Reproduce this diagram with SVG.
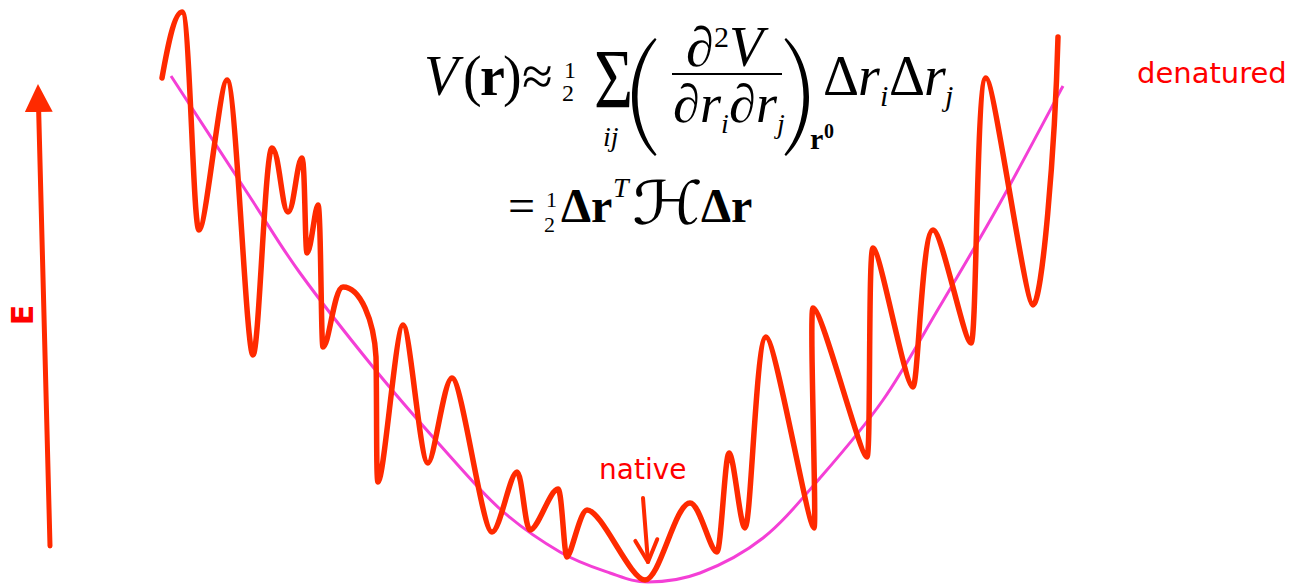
<svg xmlns="http://www.w3.org/2000/svg" width="1291" height="584" viewBox="0 0 1291 584">
<defs>
<style>
.m{font-family:"Liberation Serif","Times New Roman",serif;fill:#000}
.l1{font-size:56px}
.l2{font-size:48px}
.it{font-style:italic}
.bd{font-weight:bold}
.lbl{font-family:"DejaVu Sans",sans-serif;fill:#FF0000}
.wave{fill:none;stroke:#FF2A00;stroke-width:5.5;stroke-linecap:round;stroke-linejoin:round}
.fit{fill:none;stroke:#F43FD6;stroke-width:3}
.arr{fill:none;stroke:#FF2A00;stroke-linecap:round}
</style>
<marker id="headFill" markerUnits="userSpaceOnUse" markerWidth="28" markerHeight="28" viewBox="0 0 26 26" refX="0" refY="13" orient="auto">
<path d="M0,0 L26,13 L0,26 Z" fill="#FF2A00"/>
</marker>
<marker id="headOpen" markerUnits="userSpaceOnUse" markerWidth="30" markerHeight="30" viewBox="-4 -4 30 30" refX="22" refY="11" orient="auto">
<path d="M0,0 L22,11 L0,22" fill="none" stroke="#FF2A00" stroke-width="4" stroke-linecap="round" stroke-linejoin="round"/>
</marker>
</defs>
<rect width="1291" height="584" fill="#fff"/>

<g id="landscape">
<path id="harmonic-fit" class="fit" d="M171,76 C184.2,96.2 228.5,164.2 250,197 C271.5,229.8 279.5,244.7 300,273 C320.5,301.3 349.7,338.3 373,367 C396.3,395.7 418.8,421.3 440,445 C461.2,468.7 480,491.2 500,509 C520,526.8 541.7,541.3 560,552 C578.3,562.7 595.3,568 610,573 C624.7,578 633,582 648,582 C663,582 680.8,580.3 700,573 C719.2,565.7 743,553.8 763,538 C783,522.2 800,501 820,478 C840,455 863,428.7 883,400 C903,371.3 920.5,338.8 940,306 C959.5,273.2 979.5,239.7 1000,203 C1020.5,166.3 1052.5,105.5 1063,86"/>
<path id="rugged-energy" class="wave" d="M162,78 C167,50 174,12 182,12 C190,12 193,230 199,230 C206,230 220,80 227,80 C236,80 246,355 253,355 C259,355 265,148 272,148 C279,148 282,212 288,212 C294,212 297,158 302,158 C305,158 305,253 307,253 C311,253 315,205 318,205 C321,205 321,347 323,347 C329,347 334,287 343,287 C360,287 374,320 376,357 C377,400 376,482 378,482 C384,482 396,325 403,325 C410,325 420,463 428,463 C434,463 444,378 452,378 C462,378 482,532 492,532 C500,532 510,472 517,472 C522,472 525,530 530,530 C538,530 550,489 558,489 C562,489 564,557 567,557 C571,557 580,510 587,510 C602,510 630,580 645,580 C660,580 675,503 690,503 C700,503 710,552 717,552 C721,552 725,453 729,453 C734,453 740,528 745,528 C751,528 756,337 766,337 C775,337 808,528 814,528 C817,528 809,308 813,308 C822,308 860,457 867,457 C871,457 868,248 873,248 C880,248 905,387 913,387 C918,387 922,230 933,230 C942,230 964,343 971,343 C977,343 976,78 986,78 C994,78 1025,305 1033,305 C1042,305 1055,150 1058,37"/>
</g>

<g id="connectors">
<line id="energy-axis" class="arr" x1="50" y1="546" x2="38.7" y2="112" stroke-width="5" marker-end="url(#headFill)"/>
<line id="native-pointer" class="arr" x1="643" y1="498" x2="648" y2="562" stroke-width="4" marker-end="url(#headOpen)"/>
</g>

<g id="label-E">
<text class="lbl" font-size="30" font-weight="bold" text-anchor="middle" transform="translate(33,315) rotate(-90)">E</text>
</g>

<g id="label-native">
<text class="lbl" font-size="28" x="599" y="479">native</text>
</g>

<g id="label-denatured">
<text class="lbl" font-size="29" x="1137" y="83">denatured</text>
</g>

<g id="formula-line1">
<text class="m l1 it" x="424" y="95">V</text>
<text class="m l1" x="463" y="95">(</text>
<text class="m l1 bd" x="480" y="95">r</text>
<text class="m l1" x="503" y="95">)</text>
<text class="m l1" x="522" y="95">≈</text>
<text class="m" font-size="24" x="564" y="78">1</text>
<text class="m" font-size="24" x="562" y="101">2</text>
<text class="m" font-size="84" transform="translate(594,108) scale(0.8,1)">Σ</text>
<text class="m it" font-size="28" x="603" y="146">ij</text>
<path d="M655,38 C640,52 632,75 632,97 C632,119 640,142 655,156 L656.5,154.5 C645,140 637.5,120 637.5,97 C637.5,74 645,54 656.5,39.5 Z" fill="#000"/>
<text class="m l1" x="686" y="66">∂</text>
<text class="m" font-size="30" x="714" y="47">2</text>
<text class="m l1 it" x="729" y="66">V</text>
<line x1="672" y1="74" x2="782" y2="74" stroke="#000" stroke-width="2"/>
<text class="m" font-size="54" x="673" y="122">∂</text>
<text class="m it" font-size="54" x="700" y="122">r</text>
<text class="m it" font-size="28" x="721" y="133">i</text>
<text class="m" font-size="54" x="729" y="122">∂</text>
<text class="m it" font-size="54" x="756" y="122">r</text>
<text class="m it" font-size="28" x="777" y="133">j</text>
<path d="M786,38 C801,52 809,75 809,97 C809,119 801,142 786,156 L784.5,154.5 C796,140 803.5,120 803.5,97 C803.5,74 796,54 784.5,39.5 Z" fill="#000"/>
<text class="m bd" font-size="30" x="810" y="149">r</text>
<text class="m bd" font-size="20" x="824" y="138">0</text>
<text class="m l1" x="823" y="95">Δ</text>
<text class="m l1 it" x="858" y="95">r</text>
<text class="m it" font-size="30" x="880" y="106">i</text>
<text class="m l1" x="889" y="95">Δ</text>
<text class="m l1 it" x="924" y="95">r</text>
<text class="m it" font-size="30" x="945" y="106">j</text>
</g>

<g id="formula-line2">
<text class="m l2" x="508" y="222">=</text>
<text class="m" font-size="22" x="546" y="207">1</text>
<text class="m" font-size="22" x="544" y="232">2</text>
<text class="m l2 bd" x="561" y="222">Δ</text>
<text class="m l2 bd" x="591" y="222">r</text>
<text class="m it" font-size="28" x="613" y="197">T</text>
<text font-family="'DejaVu Serif','DejaVu Sans',serif" font-size="60" transform="translate(632,224) scale(1.2,1)">ℋ</text>
<text class="m l2 bd" x="701" y="222">Δ</text>
<text class="m l2 bd" x="731" y="222">r</text>
</g>
</svg>
